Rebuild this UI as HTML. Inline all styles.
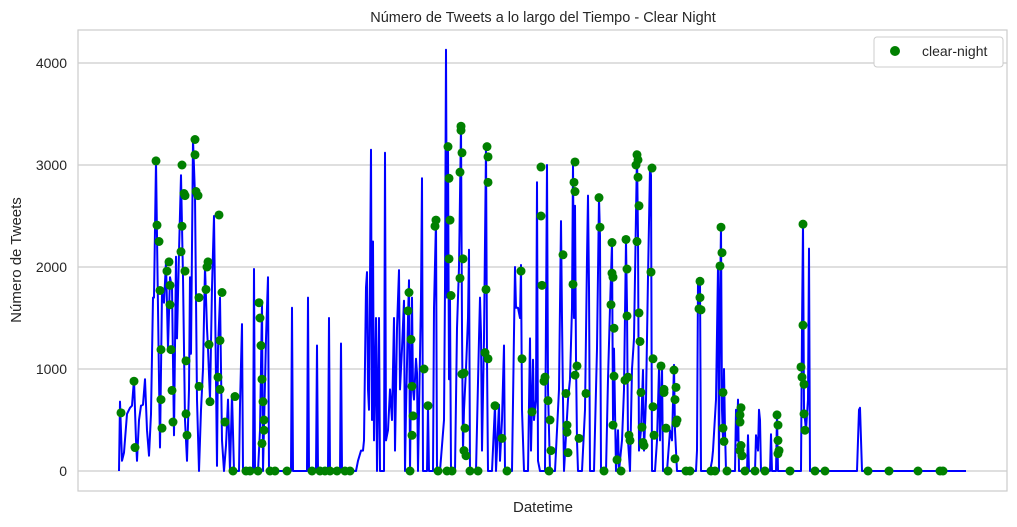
<!DOCTYPE html>
<html><head><meta charset="utf-8"><style>
body{margin:0;background:#fff;font-family:"Liberation Sans",sans-serif}
svg text{font-family:"Liberation Sans",sans-serif;fill:#262626}
</style></head><body>
<svg id="chart" width="1017" height="522" viewBox="0 0 1017 522">
<rect x="0" y="0" width="1017" height="522" fill="#fff"/>
<text x="543" y="22" text-anchor="middle" font-size="14.5">Número de Tweets a lo largo del Tiempo - Clear Night</text>
<g id="grid"></g>
<rect x="78" y="30" width="929" height="461" fill="none" stroke="#cccccc" stroke-width="1.2"/>
<g id="line"></g><g id="dots"></g>
<text x="543" y="512" text-anchor="middle" font-size="15">Datetime</text>
<text transform="translate(21,260) rotate(-90)" text-anchor="middle" font-size="15">Número de Tweets</text>
<g>
<rect x="874" y="37" width="129" height="30" rx="3" fill="#fff" stroke="#cccccc"/>
<circle cx="895" cy="51" r="5" fill="green"/>
<text x="922" y="56" font-size="14">clear-night</text>
</g>
</svg>
<script>
const yTicks=[0,1000,2000,3000,4000];
const linePoints=[[119,0],[120,680],[122,100],[124,180],[127,560],[130,620],[132,640],[134,900],[136,300],[137,100],[139,500],[141,640],[143,650],[145,900],[147,400],[149,150],[151,560],[153,1700],[154,1700],[156,3040],[157,2300],[159,900],[160,230],[162,1750],[164,1650],[166,2050],[168,1200],[170,1900],[172,1800],[174,350],[176,2100],[177,1300],[179,2150],[181,2900],[183,1900],[185,500],[187,100],[189,800],[190,1900],[191,1150],[193,3250],[195,2700],[197,700],[199,0],[201,600],[203,1000],[205,2000],[207,1400],[208,1200],[210,700],[212,1800],[214,2500],[216,900],[217,50],[218,1200],[220,1700],[222,300],[224,0],[226,250],[228,700],[230,0],[232,750],[234,0],[239,0],[240,650],[242,1440],[243,0],[253,0],[254,1980],[255,0],[258,0],[260,400],[262,1650],[263,0],[266,1300],[268,1900],[269,0],[291,0],[292,1600],[293,0],[307,0],[308,1700],[309,0],[316,0],[317,1230],[318,0],[328,0],[329,1500],[330,0],[340,0],[341,1250],[342,0],[356,0],[358,100],[361,200],[363,200],[364,300],[366,1800],[367,1950],[368,800],[369,600],[371,3150],[372,500],[373,2250],[374,300],[376,1500],[377,0],[379,1500],[380,0],[384,0],[385,3120],[386,300],[388,400],[390,800],[392,500],[394,1500],[395,200],[397,1400],[399,1970],[400,800],[402,1200],[404,1670],[405,0],[406,600],[408,1500],[409,1870],[410,0],[412,1700],[413,800],[414,700],[416,1100],[417,960],[418,0],[421,1700],[422,2870],[423,0],[427,0],[428,640],[429,0],[433,0],[434,1600],[436,2460],[437,0],[440,0],[444,500],[445,1800],[446,4130],[447,1700],[448,3180],[449,900],[450,1700],[451,0],[455,0],[457,1400],[459,2000],[461,3390],[462,1400],[463,200],[464,600],[466,1000],[468,1500],[469,2170],[470,0],[476,0],[479,1300],[480,1700],[481,1340],[482,200],[484,1300],[486,3180],[487,1100],[488,0],[492,0],[495,650],[496,0],[499,650],[500,100],[502,500],[504,1230],[505,0],[512,0],[514,1350],[515,2000],[516,1600],[518,1600],[520,1500],[521,2020],[522,600],[524,0],[528,0],[530,1300],[531,200],[533,1090],[534,500],[536,700],[537,2830],[538,100],[540,0],[545,0],[547,3000],[548,800],[550,0],[555,0],[559,800],[561,2450],[562,1500],[563,700],[564,0],[568,700],[570,900],[572,1600],[573,3020],[574,1500],[575,2600],[576,1100],[577,300],[578,0],[582,0],[585,600],[587,2080],[588,2700],[589,1800],[590,0],[594,0],[597,1200],[599,2680],[600,2300],[601,0],[606,0],[608,900],[610,1600],[612,2240],[613,500],[614,1200],[616,0],[618,400],[619,0],[622,300],[624,800],[626,2260],[627,1600],[628,300],[630,0],[632,1000],[634,1300],[637,3120],[638,2300],[639,200],[641,400],[643,990],[644,200],[646,700],[648,1900],[650,2970],[651,2900],[652,0],[655,0],[657,300],[659,1000],[660,300],[662,1040],[663,0],[667,0],[670,400],[672,300],[674,1040],[675,400],[677,0],[696,0],[697,200],[698,1860],[699,1600],[700,1860],[701,0],[710,0],[712,100],[713,200],[716,700],[718,2000],[719,0],[720,1700],[721,2390],[722,600],[723,300],[724,1000],[725,400],[726,0],[735,0],[736,600],[737,300],[738,700],[739,0],[747,0],[748,350],[749,0],[755,0],[756,350],[758,200],[759,600],[760,500],[761,0],[770,0],[771,360],[772,0],[776,0],[777,560],[778,0],[801,0],[802,1400],[803,2420],[804,600],[806,400],[808,700],[809,2180],[810,0],[857,0],[859,600],[860,620],[862,0],[966,0]];
const dotT=[121,134,135,156,157,159,160,161,161,162,167,169,170,170,171,172,173,181,182,182,184,185,185,186,186,187,195,195,196,198,199,199,206,207,208,209,210,218,219,220,220,222,225,235,233,246,250,258,259,260,261,262,263,264,264,262,270,275,287,312,320,325,330,337,345,350,409,408,411,412,413,412,410,424,428,436,435,438,448,449,450,449,451,447,452,461,461,462,460,463,460,462,464,465,464,466,470,478,487,488,488,486,485,488,495,502,507,521,522,532,541,541,542,544,545,548,550,551,549,563,566,567,567,568,575,574,575,573,575,577,579,586,599,600,604,612,611,612,613,614,614,613,617,621,625,626,627,627,628,629,630,636,637,638,638,639,637,639,640,641,642,643,644,651,652,653,653,654,661,664,664,666,674,676,675,677,676,675,668,686,690,699,700,700,701,711,715,720,721,722,723,723,724,727,740,741,740,741,742,740,745,755,765,777,778,778,779,778,790,803,803,801,802,804,804,805,815,825,868,889,918,940,943];
const dotV=[570,880,230,3040,2410,2250,1770,1190,700,420,1960,2050,1820,1630,1190,790,480,2150,2400,3000,2720,2700,1960,1080,560,350,3250,3100,2740,2700,1700,830,1780,2000,2050,1240,680,920,2510,1280,800,1750,480,730,0,0,0,0,1650,1500,1230,900,680,500,400,270,0,0,0,0,0,0,0,0,0,0,1750,1570,1290,830,540,350,0,1000,640,2460,2400,0,3180,2870,2460,2080,1720,0,0,3380,3340,3120,2930,2080,1890,950,960,420,200,150,0,0,3180,3080,2830,1780,1160,1100,640,320,0,1960,1100,580,2500,2980,1820,880,920,690,500,200,0,2120,760,450,380,180,3030,2830,2740,1830,940,1030,320,760,2680,2390,0,2240,1630,1940,1900,1400,930,450,110,0,890,2270,1980,1520,920,350,300,3000,3100,2880,3050,2600,2250,1550,1270,770,430,280,250,1950,2970,1100,630,350,1030,800,770,420,990,820,700,500,470,120,0,0,0,1590,1860,1700,1580,0,0,2010,2390,2140,770,420,290,0,550,620,480,250,150,200,0,0,0,550,450,300,200,170,0,2420,1430,1020,920,850,560,400,0,0,0,0,0,0,0];
const NS='http://www.w3.org/2000/svg';
function xScale(t){return 78+(t-78)*1.0;}
function yScale(v){return 471-v*0.102;}
const grid=document.getElementById('grid');
yTicks.forEach(v=>{
 const l=document.createElementNS(NS,'line');
 l.setAttribute('x1',78);l.setAttribute('x2',1007);l.setAttribute('y1',yScale(v));l.setAttribute('y2',yScale(v));
 l.setAttribute('stroke','#cccccc');l.setAttribute('stroke-width','1.2');
 
 
 grid.appendChild(l);
 const t=document.createElementNS(NS,'text');
 t.setAttribute('x',67);t.setAttribute('y',yScale(v)+5);t.setAttribute('text-anchor','end');t.setAttribute('font-size','14');
 t.textContent=v;
 
 
 grid.appendChild(t);
});
const p=document.createElementNS(NS,'path');
let d='';
linePoints.forEach((pt,i)=>{d+=(i?'L':'M')+xScale(pt[0]).toFixed(1)+' '+yScale(pt[1]).toFixed(1);});
p.setAttribute('d',d);p.setAttribute('fill','none');p.setAttribute('stroke','blue');p.setAttribute('stroke-width','2');p.setAttribute('stroke-linejoin','round');


document.getElementById('line').appendChild(p);
const dots=document.getElementById('dots');
dotT.forEach((t,i)=>{
 const c=document.createElementNS(NS,'circle');
 c.setAttribute('cx',xScale(t));c.setAttribute('cy',yScale(dotV[i]));c.setAttribute('r',4.5);c.setAttribute('fill','green');
 
 
 dots.appendChild(c);
});
</script>
</body></html>
